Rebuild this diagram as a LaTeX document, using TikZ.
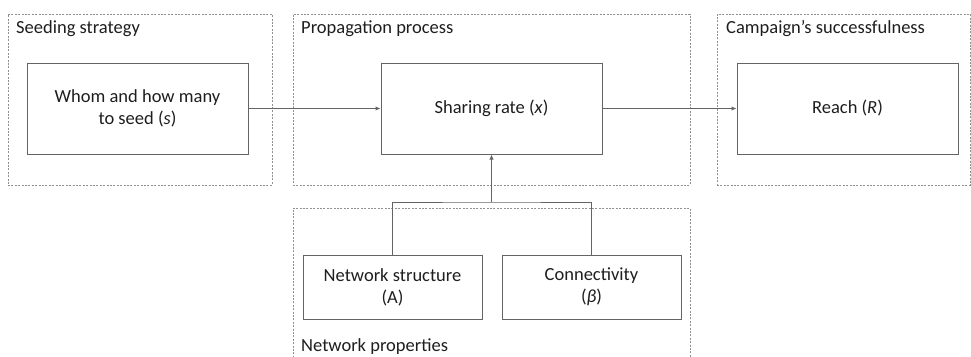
\documentclass[tikz,border=0pt]{standalone}
\usepackage{fontspec}
\setmainfont{Carlito}
\usetikzlibrary{arrows.meta}
\definecolor{traitgris}{RGB}{100,100,100}
\definecolor{cadregris}{RGB}{145,145,145}
\definecolor{textegris}{RGB}{30,30,30}
\tikzset{
  boite/.style={draw=traitgris, line width=1pt, align=center, text=textegris,
    minimum width=221pt, minimum height=91pt, inner sep=2pt},
  petiteboite/.style={boite, minimum width=179pt, minimum height=64pt},
  cadre/.style={draw=cadregris, line width=0.8pt, dash pattern=on 2pt off 1.4pt,
    minimum width=264pt, minimum height=171pt, inner sep=0pt},
  titre/.style={anchor=west, text=textegris, inner sep=0pt},
  fleche/.style={draw=traitgris, line width=1pt, -{Latex[length=5pt,width=4.5pt]}},
  trait/.style={draw=traitgris, line width=1pt}
}
\begin{document}
\begin{tikzpicture}[x=1pt,y=-1pt,font=\fontsize{18.5}{22}\selectfont]
%					Cadre de l'image :
					\useasboundingbox (0,0) rectangle (971,356);
%					Tracé des cadres :
					\node[cadre] (cadreseed) at (140,99.5) {};
					\node[cadre, minimum width=397pt] (cadreprop) at (491.5,99.5) {};
					\node[cadre, minimum width=253pt] (cadrereach) at (843.5,99.5) {};
					\node[cadre, minimum width=397pt, minimum height=170pt] (cadrenet) at (491.5,293) {};
%					Titres des cadres :
					\node[titre] (titreseed) at (16,29) {Seeding strategy};
					\node[titre] (titreprop) at (301,29) {Propagation process};
					\node[titre] (titrereach) at (726,29) {Campaign’s successfulness};
					\node[titre] (titrenet) at (301,347) {Network properties};
%					Tracé des boîtes :
					\node[boite] (seed) at (137.5,108.5) {Whom and how many\\to seed (\textit{s})};
					\node[boite] (share) at (491.5,108.5) {Sharing rate (\textit{x})};
					\node[boite] (reach) at (847.5,108.5) {Reach (\textit{R})};
					\node[petiteboite] (struct) at (392.5,287) {Network structure\\(A)};
					\node[petiteboite] (conn) at (591.5,287) {Connectivity\\(\textit{β})};
%					Tracé des flèches :
					\coordinate (jonction) at (491.5,202);
					\draw[fleche] (seed) -- (share);
					\draw[fleche] (share) -- (reach);
					\draw[trait] (struct.north) |- (jonction) -| (conn.north);
					\draw[fleche] (jonction) -- (share.south);
				\end{tikzpicture}
\end{document}
